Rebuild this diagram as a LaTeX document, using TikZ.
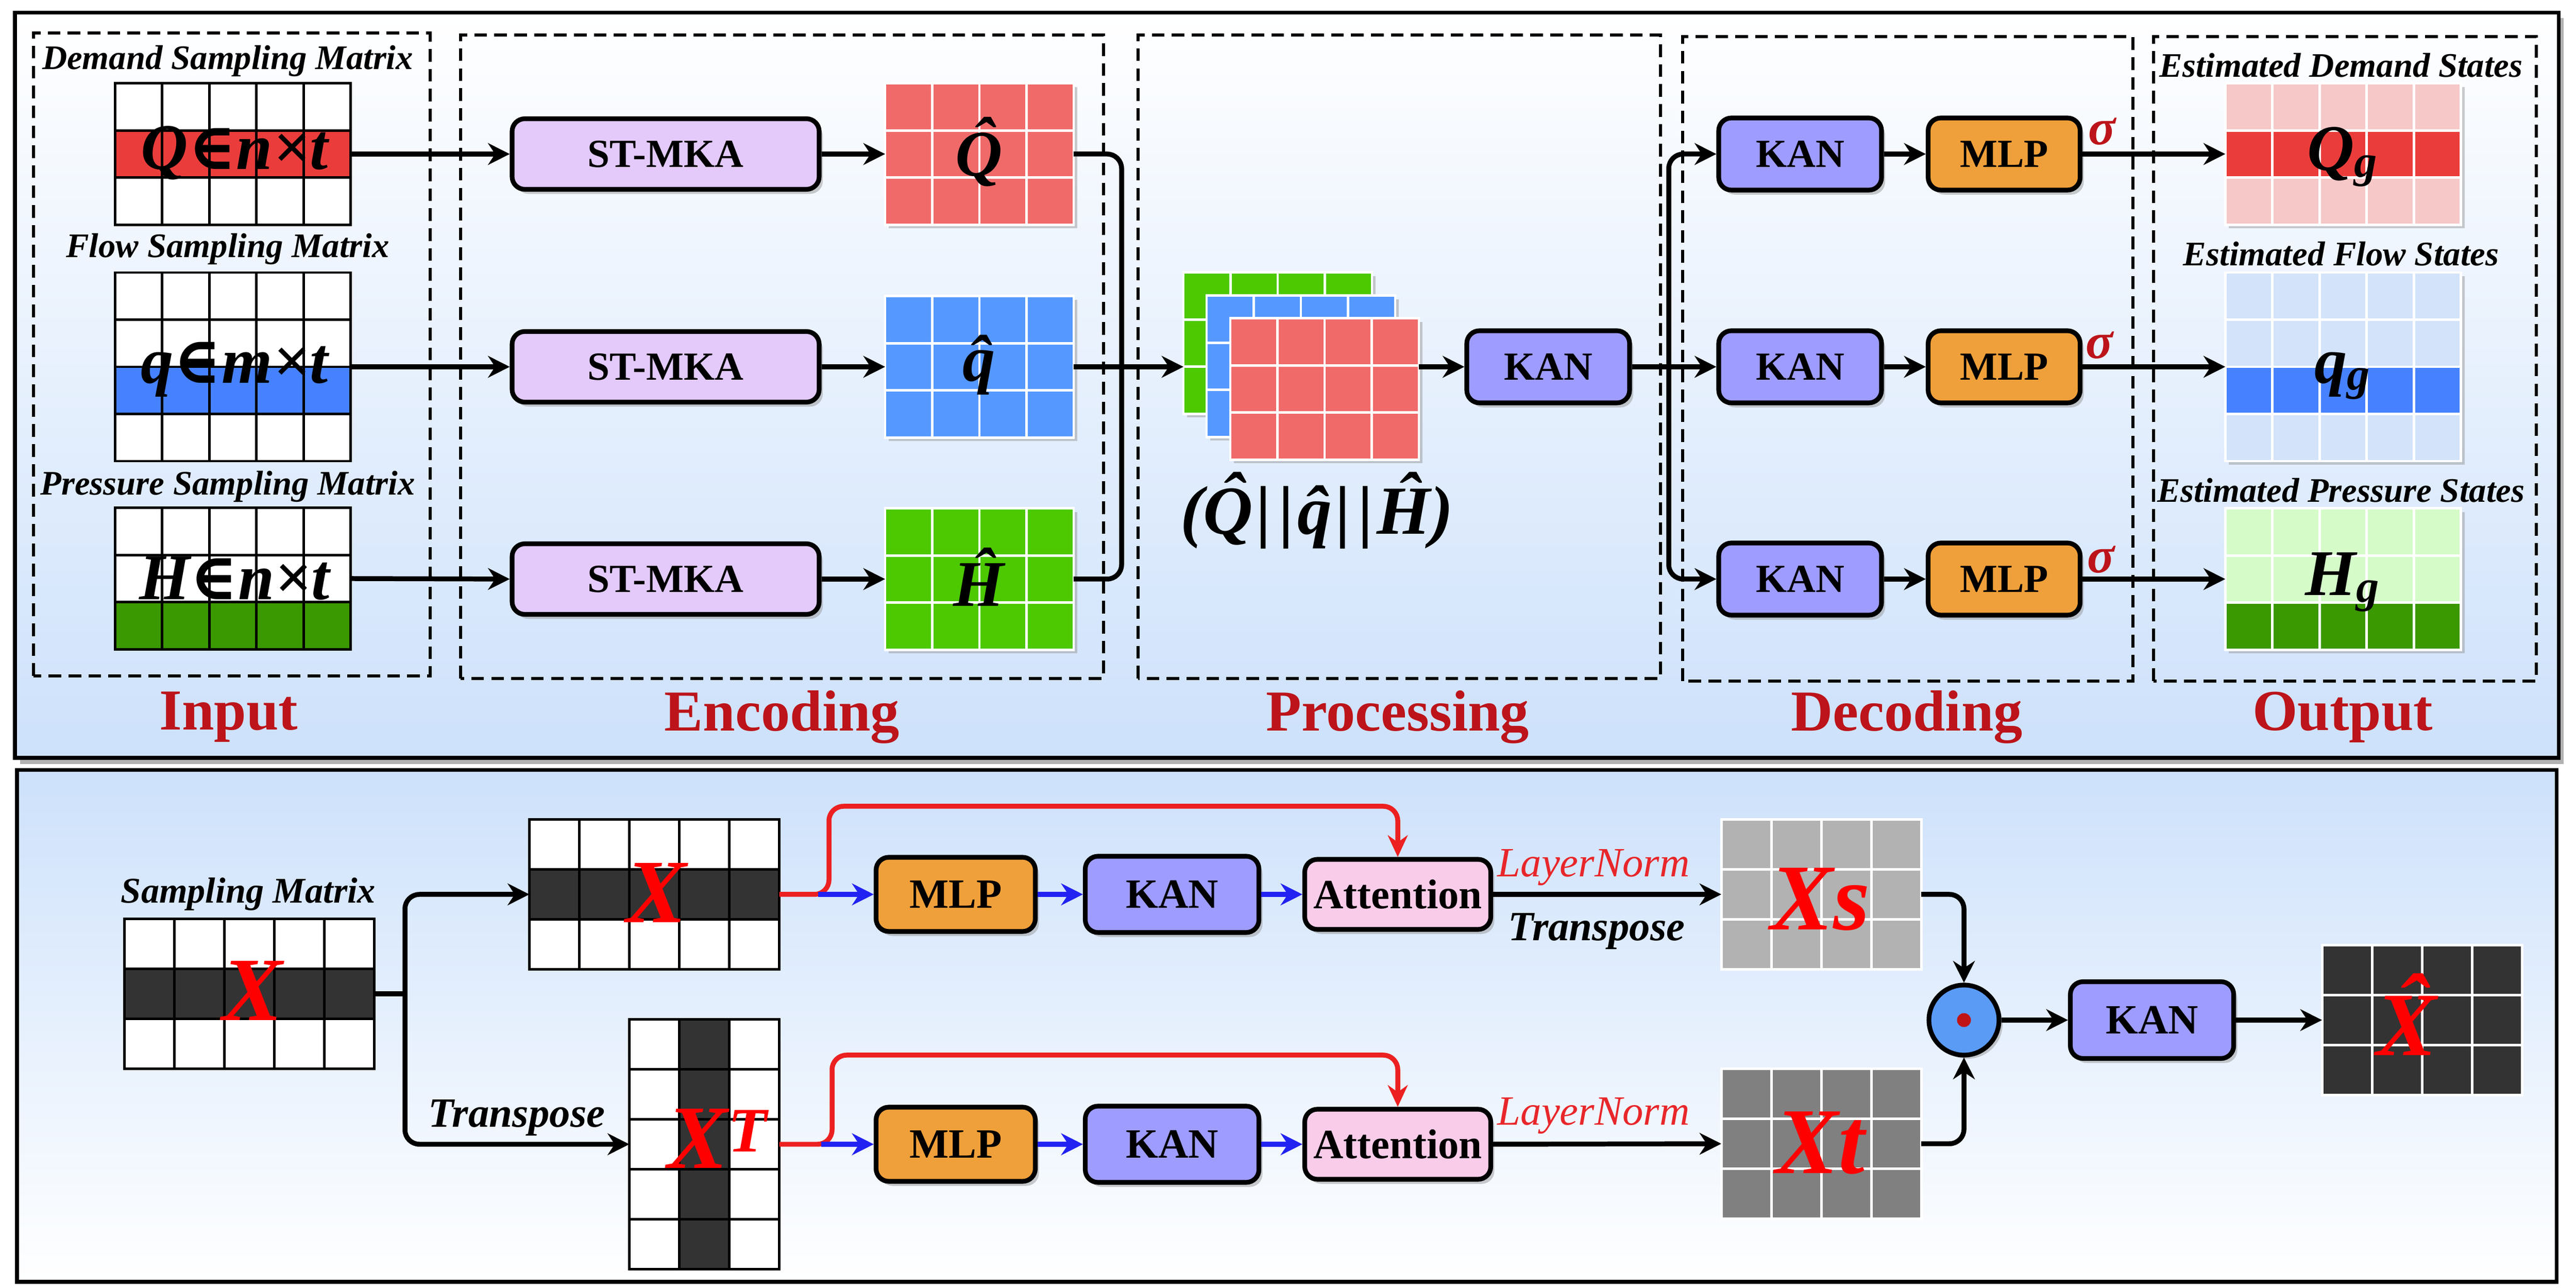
\documentclass[tikz,border=0pt]{standalone}
\usepackage{fontspec}
\setmainfont{Liberation Serif}
\newfontfamily\symfont{DejaVu Serif}
\usetikzlibrary{arrows.meta,shadows}

\definecolor{demred}{HTML}{EA3D3B}
\definecolor{flowblue}{HTML}{4682FF}
\definecolor{presgreen}{HTML}{3A9800}
\definecolor{hatred}{HTML}{F06A6A}
\definecolor{hatblue}{HTML}{5598FF}
\definecolor{hatgreen}{HTML}{4CC900}
\definecolor{lightred}{HTML}{F6C8C8}
\definecolor{lightblue}{HTML}{D2E3FA}
\definecolor{lightgreen}{HTML}{D4FBC8}
\definecolor{stmkafill}{HTML}{E3CAFA}
\definecolor{kanblue}{HTML}{9E9CFF}
\definecolor{mlporange}{HTML}{F0A03A}
\definecolor{attpink}{HTML}{F9CDE9}
\definecolor{dotblue}{HTML}{5A9BF6}
\definecolor{dotred}{HTML}{C01414}
\definecolor{labelred}{HTML}{BC141A}
\definecolor{skipred}{HTML}{EC2020}
\definecolor{normred}{HTML}{E8262A}
\definecolor{feedblue}{HTML}{2222F2}
\definecolor{panelblue}{HTML}{CDE1FB}
\definecolor{cellgray}{HTML}{333333}

\tikzset{
	panel/.style={draw=black, line width=2pt},
	stage/.style={draw=black, line width=1.5pt, dash pattern=on 7pt off 4pt},
	stagename/.style={text=labelred, font=\fontsize{32}{36}\selectfont\bfseries},
	block/.style={draw=black, line width=2.6pt, rounded corners=7pt, minimum height=1.4cm, inner sep=0pt,
		font=\fontsize{22}{26}\selectfont\bfseries, drop shadow={shadow xshift=2pt, shadow yshift=-2.5pt, fill=black!40}},
	kan/.style={block, fill=kanblue, minimum width=3.16cm},
	mlp/.style={block, fill=mlporange, minimum width=2.95cm},
	stmka/.style={block, fill=stmkafill, minimum width=5.96cm, minimum height=1.37cm},
	att/.style={block, fill=attpink, minimum width=3.61cm, minimum height=1.36cm, font=\fontsize{23}{26}\selectfont\bfseries},
	mat/.style={inner sep=0pt, outer sep=0pt},
	shade mat/.style={drop shadow={shadow xshift=2pt, shadow yshift=-2pt, fill=black!40}},
	gridline/.style={line width=1.4pt},
	caption/.style={font=\fontsize{19}{22}\selectfont\bfseries\itshape},
	bigcaption/.style={font=\fontsize{23}{26}\selectfont\bfseries\itshape},
	bigsym/.style={font=\fontsize{36}{40}\selectfont\bfseries\itshape},
	catsym/.style={font=\fontsize{38}{42}\selectfont\bfseries\itshape},
	redsym/.style={text=red, font=\fontsize{50}{54}\selectfont\bfseries\itshape},
	sig/.style={text=labelred, font=\fontsize{28}{30}\selectfont\bfseries\itshape},
	lnorm/.style={text=normred, font=\fontsize{23}{26}\selectfont\itshape},
	arr/.style={line width=2.7pt, -{Stealth[length=12pt,width=12pt]}},
	link/.style={line width=2.7pt, rounded corners=8pt},
	skipline/.style={draw=skipred, line width=2.7pt, rounded corners=8pt, -{Stealth[length=12pt,width=11pt]}},
	feed/.style={draw=feedblue, line width=2.7pt, -{Stealth[length=12pt,width=12pt]}},
}

\def\cell{0.915cm}
\newcommand{\hatq}[1]{\accent"02C6 #1}
\newcommand{\elem}{{\symfont\upshape ∈}}
% grid of cells: [node options]{name}{centre}{cols}{rows}{fill}{grid colour}{band}
\newcommand{\matgrid}[8][]{%
	\node[mat, #1, fill=#6, minimum width=#4*\cell, minimum height=#5*\cell] (#2) at (#3) {};
	\begin{scope}[shift={(#2.south west)}]
		#8
		\draw[gridline, #7] (0,0) grid[step=\cell] (#4*\cell,#5*\cell) (0,0) rectangle (#4*\cell,#5*\cell);
	\end{scope}}

\begin{document}
\begin{tikzpicture}
			\useasboundingbox (0,0) rectangle (50,25);
			%%%%% TOP PANEL %%%%%
			
			\fill[black!30] (0.39,10.17) rectangle (49.76,24.65);
			\shade[top color=white, bottom color=panelblue] (0.29,10.29) rectangle (49.66,24.75);
			\draw[panel] (0.29,10.29) rectangle (49.66,24.75);
			
			\draw[stage] (0.65,11.88) rectangle (8.35,24.36);
			\draw[stage] (8.94,11.83) rectangle (21.42,24.32);
			\draw[stage] (22.09,11.83) rectangle (32.23,24.32);
			\draw[stage] (32.66,11.78) rectangle (41.40,24.29);
			\draw[stage] (41.80,11.78) rectangle (49.23,24.29);
			
			\node[stagename] (lbIn) at (4.44,11.08) {Input};
			\node[stagename] (lbEnc) at (15.18,11.08) {Encoding};
			\node[stagename] (lbPro) at (27.13,11.08) {Processing};
			\node[stagename] (lbDec) at (37.01,11.08) {Decoding};
			\node[stagename] (lbOut) at (45.47,11.08) {Output};
			
			% input
			\node[caption] (tDm) at (4.42,23.82) {Demand Sampling Matrix};
			\node[caption] (tFm) at (4.42,20.17) {Flow Sampling Matrix};
			\node[caption] (tPm) at (4.42,15.56) {Pressure Sampling Matrix};
			\matgrid{Dm}{4.52,22.01}{5}{3}{white}{black}{\fill[demred] (0,\cell) rectangle (5*\cell,2*\cell);}
			\matgrid{Fm}{4.52,17.88}{5}{4}{white}{black}{\fill[flowblue] (0,\cell) rectangle (5*\cell,2*\cell);}
			\matgrid{Pm}{4.52,13.77}{5}{3}{white}{black}{\fill[presgreen] (0,0) rectangle (5*\cell,\cell);}
			\node[bigsym] (Dtx) at (4.55,22.03) {Q\elem n×t};
			\node[bigsym] (Ftx) at (4.55,17.83) {q\elem m×t};
			\node[bigsym] (Ptx) at (4.55,13.77) {H\elem n×t};
			
			% encoding
			\node[stmka] (Se1) at (12.92,22.01) {ST-MKA};
			\node[stmka] (Se2) at (12.92,17.88) {ST-MKA};
			\node[stmka] (Se3) at (12.92,13.76) {ST-MKA};
			\draw[arr] (Dm.east) -- (Se1.west);
			\draw[arr] (Fm.east) -- (Se2.west);
			\draw[arr] (Pm.east) -- (Se3.west);
			
			\matgrid[shade mat]{Qh}{19.01,22.01}{4}{3}{hatred}{white}{}
			\matgrid[shade mat]{qh}{19.01,17.88}{4}{3}{hatblue}{white}{}
			\matgrid[shade mat]{Hh}{19.01,13.76}{4}{3}{hatgreen}{white}{}
			\node[bigsym] (Qhl) at (19.0,22.05) {\hatq{Q}};
			\node[bigsym] (qhl) at (19.0,17.92) {\hatq{q}};
			\node[bigsym] (Hhl) at (19.0,13.80) {\hatq{H}};
			\draw[arr] (Se1) -- (Qh);
			\draw[arr] (Se2) -- (qh);
			\draw[arr] (Se3) -- (Hh);
			
			% processing
			\matgrid[shade mat]{Sg}{24.80,18.34}{4}{3}{hatgreen}{white}{}
			\matgrid[shade mat]{Sb}{25.25,17.89}{4}{3}{hatblue}{white}{}
			\matgrid[shade mat]{Sr}{25.71,17.45}{4}{3}{hatred}{white}{}
			\node[catsym] (Cat) at (25.56,15.09) {(\hatq{Q}\kern2pt|\kern4pt|\kern2pt\hatq{q}\kern2pt|\kern4pt|\kern2pt\hatq{H})};
			
			\coordinate (jm) at (21.77,17.88);
			\draw[link] (Qh.east) -| (jm);
			\draw[link] (Hh.east) -| (jm);
			\draw[arr] (qh.east) -- (qh.east -| Sg.west);
			
			\node[kan] (Kp) at (30.05,17.88) {KAN};
			\draw[arr] (Sr.east |- Kp.west) -- (Kp.west);
			
			% decoding
			\node[kan] (Kd1) at (34.94,22.01) {KAN};
			\node[kan] (Kd2) at (34.94,17.88) {KAN};
			\node[kan] (Kd3) at (34.94,13.76) {KAN};
			\node[mlp] (Md1) at (38.90,22.01) {MLP};
			\node[mlp] (Md2) at (38.90,17.88) {MLP};
			\node[mlp] (Md3) at (38.90,13.76) {MLP};
			
			\coordinate (jd) at (32.39,17.88);
			\draw[link] (Kp.east) -- (jd);
			\draw[arr, rounded corners=8pt] (jd) |- (Kd1.west);
			\draw[arr] (jd) -- (Kd2.west);
			\draw[arr, rounded corners=8pt] (jd) |- (Kd3.west);
			\draw[arr] (Kd1) -- (Md1);
			\draw[arr] (Kd2) -- (Md2);
			\draw[arr] (Kd3) -- (Md3);
			\node[sig] (sg1) at (40.80,22.45) {σ};
			\node[sig] (sg2) at (40.75,18.30) {σ};
			\node[sig] (sg3) at (40.78,14.14) {σ};
			
			% output
			\node[caption] (tOd) at (45.44,23.73) {Estimated Demand States};
			\node[caption] (tOf) at (45.44,20.07) {Estimated Flow States};
			\node[caption] (tOp) at (45.44,15.48) {Estimated Pressure States};
			\matgrid[shade mat]{Od}{45.48,22.01}{5}{3}{lightred}{white}{\fill[demred] (0,\cell) rectangle (5*\cell,2*\cell);}
			\matgrid[shade mat]{Of}{45.48,17.88}{5}{4}{lightblue}{white}{\fill[flowblue] (0,\cell) rectangle (5*\cell,2*\cell);}
			\matgrid[shade mat]{Op}{45.48,13.76}{5}{3}{lightgreen}{white}{\fill[presgreen] (0,0) rectangle (5*\cell,\cell);}
			\node[bigsym] (Odl) at (45.47,21.95) {Q\textsubscript{g}};
			\node[bigsym] (Ofl) at (45.47,17.70) {q\textsubscript{g}};
			\node[bigsym] (Opl) at (45.47,13.70) {H\textsubscript{g}};
			\draw[arr] (Md1.east) -- (Od.west);
			\draw[arr] (Md2.east) -- (Of.west);
			\draw[arr] (Md3.east) -- (Op.west);
			
			%%%%% BOTTOM PANEL %%%%%
			\def\cell{0.97cm}
			
			\shade[top color=panelblue, bottom color=white] (0.33,0.12) rectangle (49.62,10.05);
			\draw[panel] (0.33,0.12) rectangle (49.62,10.05);
			
			\node[caption, font=\fontsize{20}{22}\selectfont\bfseries\itshape] (tSm) at (4.82,7.64) {Sampling Matrix};
			\matgrid{Sm}{4.84,5.71}{5}{3}{white}{black}{\fill[cellgray] (0,\cell) rectangle (5*\cell,2*\cell);}
			\node[redsym] (Sml) at (4.90,5.77) {X};
			
			\matgrid{Xr}{12.70,7.64}{5}{3}{white}{black}{\fill[cellgray] (0,\cell) rectangle (5*\cell,2*\cell);}
			\matgrid{Xc}{13.67,2.79}{3}{5}{white}{black}{\fill[cellgray] (\cell,0) rectangle (2*\cell,5*\cell);}
			\node[redsym] (Xrl) at (12.74,7.67) {X};
			\node[redsym] (Xcl) at (13.93,2.90) {X\textsuperscript{T}};
			
			\coordinate (js) at (7.86,5.71);
			\draw[link] (Sm.east) -- (js);
			\draw[arr, rounded corners=8pt] (js) |- (Xr.west);
			\draw[arr, rounded corners=8pt] (js) |- (Xc.west);
			\node[bigcaption] (tTr1) at (10.03,3.30) {Transpose};
			
			% two branches
			\node[mlp, minimum width=3.09cm, minimum height=1.44cm, font=\fontsize{23}{26}\selectfont\bfseries] (Mt) at (18.55,7.64) {MLP};
			\node[kan, minimum width=3.37cm, minimum height=1.48cm, font=\fontsize{23}{26}\selectfont\bfseries] (Kt) at (22.75,7.64) {KAN};
			\node[att] (At) at (27.13,7.64) {Attention};
			\node[mlp, minimum width=3.09cm, minimum height=1.44cm, font=\fontsize{23}{26}\selectfont\bfseries] (Mb) at (18.55,2.79) {MLP};
			\node[kan, minimum width=3.37cm, minimum height=1.48cm, font=\fontsize{23}{26}\selectfont\bfseries] (Kb) at (22.75,2.79) {KAN};
			\node[att] (Ab) at (27.13,2.79) {Attention};
			
			\coordinate (jt) at (16.09,7.64);
			\coordinate (rt) at (27.13,9.35);
			\coordinate (jb) at (16.15,2.79);
			\coordinate (rb) at (27.13,4.52);
			\draw[skipline] (Xr.east) -- (jt) |- (rt) -- (At.north);
			\draw[skipline] (Xc.east) -- (jb) |- (rb) -- (Ab.north);
			\draw[feed] ([xshift=-6pt]jt) -- (Mt.west);
			\draw[feed] (Mt) -- (Kt);
			\draw[feed] (Kt) -- (At);
			\draw[feed] ([xshift=-6pt]jb) -- (Mb.west);
			\draw[feed] (Mb) -- (Kb);
			\draw[feed] (Kb) -- (Ab);
			
			\matgrid{Xs}{35.35,7.64}{4}{3}{black!30}{white}{}
			\matgrid{Xt}{35.35,2.80}{4}{3}{black!50}{white}{}
			\node[redsym, font=\fontsize{52}{56}\selectfont\bfseries\itshape] (Xsl) at (35.33,7.54) {Xs};
			\node[redsym, font=\fontsize{52}{56}\selectfont\bfseries\itshape] (Xtl) at (35.33,2.81) {Xt};
			\draw[arr] (At.east) -- (Xs.west);
			\draw[arr] (Ab.east) -- (Xt.west);
			\node[lnorm] (Ln1) at (30.93,8.16) {LayerNorm};
			\node[lnorm] (Ln2) at (30.93,3.34) {LayerNorm};
			\node[bigcaption] (tTr2) at (30.99,6.92) {Transpose};
			
			% fusion
			\node[circle, draw=black, line width=2.6pt, fill=dotblue, minimum size=1.36cm, inner sep=0pt,
				drop shadow={shadow xshift=2pt, shadow yshift=-2pt, fill=black!40}] (Hd) at (38.12,5.20) {};
			\node[circle, fill=dotred, minimum size=0.27cm, inner sep=0pt] (Hdc) at (Hd) {};
			\draw[arr, rounded corners=8pt] (Xs.east) -| (Hd.north);
			\draw[arr, rounded corners=8pt] (Xt.east) -| (Hd.south);
			
			\node[kan, minimum width=3.17cm, minimum height=1.49cm, font=\fontsize{23}{26}\selectfont\bfseries] (Kf) at (41.77,5.20) {KAN};
			\matgrid{Xh}{47.01,5.20}{4}{3}{cellgray}{white}{}
			\node[redsym] (Xhl) at (46.71,5.31) {\hatq{X}};
			\draw[arr] (Hd) -- (Kf);
			\draw[arr] (Kf) -- (Xh);
			
			%%%%% END %%%%%
\end{tikzpicture}
\end{document}
